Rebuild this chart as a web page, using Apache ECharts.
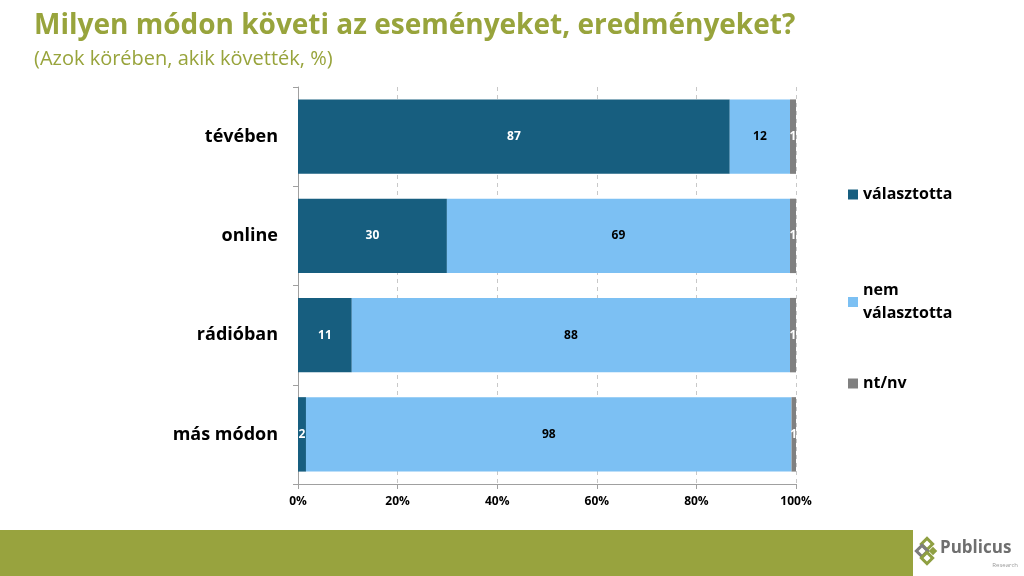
<!DOCTYPE html>
<html>
<head>
<meta charset="utf-8">
<script src="https://cdn.jsdelivr.net/npm/echarts@6/dist/echarts.min.js"></script>
<style>
  html, body { margin: 0; padding: 0; background: #fff; }
  #chart { width: 1024px; height: 576px; }
</style>
</head>
<body>
<div id="chart"></div>
<script>
// kategóriák (felülről lefelé)
var categories = ['tévében', 'online', 'rádióban', 'más módon'];
// sorozatok, % (a képről olvasva, a feliratok kerekítve)
var valasztotta = [86.7, 29.9, 10.8, 1.6];
var nemValasztotta = [12.1, 68.9, 88.0, 97.5];
var ntnv = [1.2, 1.2, 1.2, 0.9];
var xTicks = [0, 20, 40, 60, 80, 100];

var FONT = "'Open Sans', 'Noto Sans', sans-serif";
var chart = echarts.init(document.getElementById('chart'));

function seg(name, data, color, labelColor) {
  return {
    name: name,
    type: 'bar',
    stack: 'all',
    data: data,
    barWidth: '75%',
    itemStyle: { color: color },
    label: {
      show: true,
      position: 'inside',
      color: labelColor,
      fontFamily: FONT,
      fontWeight: 'bold',
      fontSize: 12,
      formatter: function (p) { return Math.round(p.value); }
    }
  };
}

function leg(name, top) {
  return {
    orient: 'vertical',
    left: 848, top: top,
    padding: 0,
    itemWidth: 10, itemHeight: 10,
    selectedMode: false,
    icon: 'rect',
    formatter: function (n) { return n === 'nem választotta' ? 'nem\nválasztotta' : n; },
    textStyle: { fontFamily: FONT, fontWeight: 'bold', fontSize: 16, color: '#000', lineHeight: 23 },
    data: [name]
  };
}

var option = {
  animation: false,
  backgroundColor: '#fff',
  title: [{
    text: 'Milyen módon követi az eseményeket, eredményeket?',
    left: 29, top: 7,
    textStyle: { color: '#98a43c', fontFamily: FONT, fontWeight: 'bold', fontSize: 28 }
  }, {
    text: '(Azok körében, akik követték, %)',
    left: 29, top: 44,
    textStyle: { color: '#98a43c', fontFamily: FONT, fontWeight: 'normal', fontSize: 20 }
  }],
  legend: [
    leg('választotta', 183),
    leg('nem választotta', 279),
    leg('nt/nv', 372)
  ],
  grid: { left: 298, right: 228, top: 87, bottom: 92 },
  xAxis: {
    type: 'value',
    min: 0, max: 100, interval: 20,
    axisLine: { show: true, lineStyle: { color: '#a0a0a0' } },
    axisTick: { show: true, length: 5, lineStyle: { color: '#a0a0a0' } },
    splitLine: { show: true, lineStyle: { color: '#c8c8c8', type: [4, 4] } },
    axisLabel: {
      color: '#000', fontFamily: FONT, fontWeight: 'bold', fontSize: 12, margin: 12,
      formatter: function (v) { return xTicks.indexOf(v) >= 0 ? v + '%' : ''; }
    }
  },
  yAxis: {
    type: 'category',
    data: categories,
    inverse: true,
    axisLine: { show: true, lineStyle: { color: '#a0a0a0' } },
    axisTick: { show: true, length: 5, lineStyle: { color: '#a0a0a0' } },
    axisLabel: { color: '#000', fontFamily: FONT, fontWeight: 'bold', fontSize: 18, margin: 20 }
  },
  series: [
    seg('választotta', valasztotta, '#175e7f', '#fff'),
    seg('nem választotta', nemValasztotta, '#7cc0f3', '#000'),
    seg('nt/nv', ntnv, '#808080', '#fff')
  ],
  graphic: [
    { type: 'rect', shape: { x: 0, y: 530, width: 913, height: 46 }, style: { fill: '#98a33e' } },
    // logo
    { type: 'rect', shape: { x: -4, y: -4, width: 8, height: 8 }, x: 927, y: 544, rotation: Math.PI / 4, style: { fill: 'none', stroke: '#8fa042', lineWidth: 3 } },
    { type: 'rect', shape: { x: -4, y: -4, width: 8, height: 8 }, x: 922, y: 551, rotation: Math.PI / 4, style: { fill: 'none', stroke: '#7d7d7d', lineWidth: 3 } },
    { type: 'rect', shape: { x: -4, y: -4, width: 8, height: 8 }, x: 927, y: 558, rotation: Math.PI / 4, style: { fill: 'none', stroke: '#8fa042', lineWidth: 3 } },
    { type: 'rect', shape: { x: -3, y: -3, width: 6, height: 6 }, x: 933, y: 551, rotation: Math.PI / 4, style: { fill: '#8fa042' } },
    { type: 'text', x: 940, y: 540, style: { text: 'Publicus', fill: '#6f6f6f', font: "bold 17px " + FONT } },
    { type: 'text', x: 1018, y: 562, style: { text: 'Research', fill: '#9a9a9a', font: "6px " + FONT, textAlign: 'right' } }
  ]
};
chart.setOption(option);
</script>
</body>
</html>
